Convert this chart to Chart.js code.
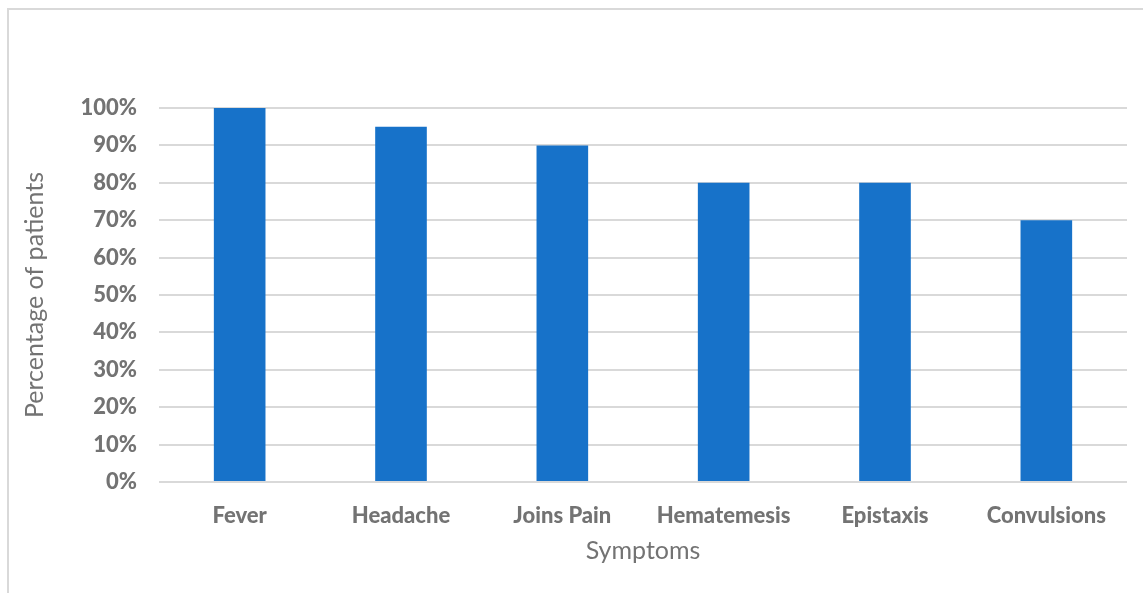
<!DOCTYPE html>
<html>
<head>
<meta charset="utf-8">
<script src="https://cdn.jsdelivr.net/npm/chart.js@4.4.0/dist/chart.umd.min.js"></script>
<style>
  html, body { margin: 0; padding: 0; background: #fff; overflow: hidden; }
  #frame { position: absolute; left: 7px; top: 8px; width: 1300px; height: 800px; border: 2px solid #d9d9d9; }
  #wrap { position: absolute; left: 0; top: 0; width: 1143px; height: 593px; }
</style>
</head>
<body>
<div id="frame"></div>
<div id="wrap"><canvas id="symptomChart"></canvas></div>
<script>
const symptoms = ['Fever', 'Headache', 'Joins Pain', 'Hematemesis', 'Epistaxis', 'Convulsions'];
const patientPercent = [100, 95, 90, 80, 80, 70];
const yTicks = [0, 10, 20, 30, 40, 50, 60, 70, 80, 90, 100];

const grey = '#737373';

new Chart(document.getElementById('symptomChart').getContext('2d'), {
    type: 'bar',
    data: {
        labels: symptoms,
        datasets: [{
            data: patientPercent,
            backgroundColor: '#1772c9',
            borderWidth: 0,
            categoryPercentage: 1,
            barPercentage: 0.32,
        }],
    },
    options: {
        responsive: true,
        maintainAspectRatio: false,
        animation: false,
        layout: { padding: { left: 0, top: 108, right: 16, bottom: 0 } },
        plugins: { legend: { display: false }, tooltip: { enabled: false } },
        scales: {
            x: {
                grid: { display: false, drawTicks: false },
                border: { display: false },
                ticks: { color: grey, padding: 21, font: { family: 'Lato', size: 22, weight: 900 } },
                title: {
                    display: true, text: 'Symptoms', color: grey,
                    font: { family: 'Lato', size: 25 }, padding: { top: 0, bottom: 27 },
                },
                afterFit: (scale) => { scale.height = 593 - 482; },
            },
            y: {
                min: 0,
                max: 100,
                afterBuildTicks: (scale) => { scale.ticks = yTicks.map(v => ({ value: v })); },
                grid: { color: '#d9d9d9', lineWidth: 2, drawTicks: false },
                border: { display: false },
                ticks: {
                    color: grey, padding: 22,
                    font: { family: 'Lato', size: 22, weight: 900 },
                    callback: (v) => v + '%',
                },
                title: {
                    display: true, text: 'Percentage of patients', color: grey,
                    font: { family: 'Lato', size: 25 }, padding: { top: 20, bottom: 0 },
                },
                afterFit: (scale) => { scale.width = 159; },
            },
        },
    },
});
</script>
</body>
</html>
